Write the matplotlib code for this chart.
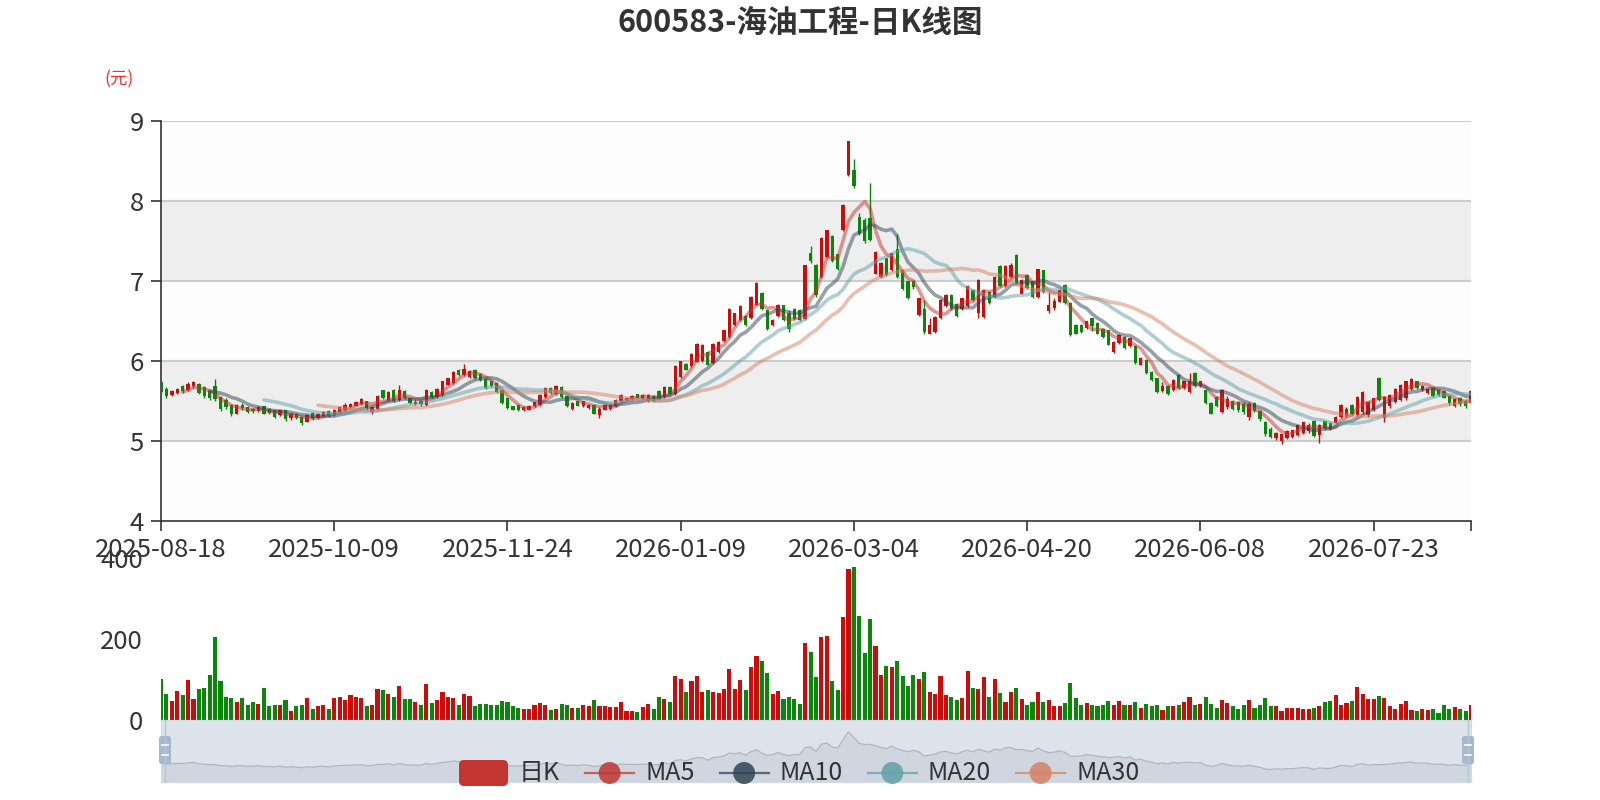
import numpy as np
import pandas as pd
import matplotlib
matplotlib.use("Agg")
import matplotlib.pyplot as plt
from matplotlib.patches import FancyBboxPatch, Circle

plt.rcParams['font.family'] = ['Noto Sans CJK SC', 'DejaVu Sans']

title = "600583-海油工程-日K线图"
unit_label = "(元)"

# trading days (weekdays minus exchange holidays)
holidays = ["2025-10-01", "2025-10-02", "2025-10-03", "2025-10-06", "2025-10-07", "2025-10-08",
            "2026-01-01", "2026-01-02",
            "2026-02-16", "2026-02-17", "2026-02-18", "2026-02-19", "2026-02-20", "2026-02-23",
            "2026-04-06", "2026-05-01", "2026-05-04", "2026-05-05", "2026-06-19"]
dates = [d.strftime("%Y-%m-%d") for d in pd.bdate_range("2025-08-18", "2026-08-18")]
dates = [d for d in dates if d not in holidays]

open_ = [5.74, 5.65, 5.57, 5.60, 5.68, 5.63, 5.68, 5.71, 5.67, 5.62,
         5.68, 5.55, 5.51, 5.45, 5.34, 5.45, 5.42, 5.40, 5.37, 5.43,
         5.40, 5.38, 5.32, 5.38, 5.28, 5.34, 5.30, 5.24, 5.35, 5.28,
         5.31, 5.37, 5.32, 5.36, 5.38, 5.42, 5.44, 5.46, 5.49, 5.36,
         5.40, 5.63, 5.51, 5.64, 5.51, 5.62, 5.53, 5.46, 5.50, 5.45,
         5.61, 5.55, 5.57, 5.70, 5.72, 5.88, 5.82, 5.80, 5.89, 5.84,
         5.77, 5.74, 5.72, 5.63, 5.53, 5.43, 5.45, 5.38, 5.39, 5.43,
         5.45, 5.55, 5.66, 5.58, 5.67, 5.56, 5.40, 5.50, 5.43, 5.41,
         5.45, 5.32, 5.39, 5.40, 5.43, 5.50, 5.51, 5.52, 5.58, 5.52,
         5.50, 5.56, 5.62, 5.55, 5.67, 5.58, 5.80, 5.96, 5.93, 5.99,
         6.00, 6.11, 5.97, 6.11, 6.24, 6.30, 6.45, 6.51, 6.56, 6.53,
         6.70, 6.85, 6.63, 6.45, 6.56, 6.69, 6.60, 6.65, 6.64, 6.52,
         7.35, 7.20, 7.05, 7.30, 7.56, 7.33, 7.63, 8.32, 8.38, 7.79,
         7.76, 7.78, 7.09, 7.05, 7.28, 7.13, 7.40, 7.13, 6.99, 7.00,
         6.57, 6.65, 6.34, 6.36, 6.53, 6.68, 6.82, 6.71, 6.65, 6.68,
         6.88, 6.60, 6.55, 6.86, 6.80, 7.18, 6.93, 7.05, 7.32, 6.84,
         7.07, 6.99, 6.80, 7.13, 6.62, 6.66, 6.74, 6.95, 6.72, 6.45,
         6.45, 6.41, 6.53, 6.47, 6.40, 6.38, 6.11, 6.22, 6.30, 6.18,
         6.18, 5.95, 6.01, 5.86, 5.78, 5.62, 5.68, 5.63, 5.82, 5.66,
         5.61, 5.85, 5.68, 5.63, 5.47, 5.55, 5.36, 5.42, 5.50, 5.48,
         5.46, 5.30, 5.47, 5.37, 5.24, 5.15, 5.03, 5.00, 5.04, 5.05,
         5.07, 5.10, 5.12, 5.25, 5.07, 5.24, 5.22, 5.22, 5.30, 5.31,
         5.45, 5.32, 5.36, 5.32, 5.39, 5.79, 5.28, 5.43, 5.49, 5.51,
         5.53, 5.65, 5.74, 5.63, 5.60, 5.66, 5.64, 5.62, 5.56, 5.44,
         5.54, 5.50, 5.47]

close = [5.61, 5.56, 5.62, 5.65, 5.62, 5.71, 5.73, 5.60, 5.56, 5.53,
         5.52, 5.40, 5.42, 5.34, 5.44, 5.41, 5.36, 5.37, 5.42, 5.34,
         5.35, 5.30, 5.38, 5.27, 5.33, 5.28, 5.22, 5.32, 5.27, 5.34,
         5.36, 5.31, 5.39, 5.42, 5.45, 5.46, 5.49, 5.52, 5.41, 5.42,
         5.56, 5.53, 5.61, 5.50, 5.64, 5.53, 5.47, 5.49, 5.46, 5.64,
         5.55, 5.65, 5.74, 5.78, 5.86, 5.82, 5.90, 5.87, 5.79, 5.76,
         5.66, 5.68, 5.61, 5.47, 5.41, 5.39, 5.38, 5.42, 5.44, 5.48,
         5.57, 5.66, 5.60, 5.68, 5.55, 5.43, 5.47, 5.44, 5.49, 5.45,
         5.34, 5.40, 5.45, 5.45, 5.51, 5.57, 5.54, 5.56, 5.53, 5.57,
         5.57, 5.50, 5.53, 5.67, 5.59, 5.93, 5.99, 5.89, 6.09, 6.21,
         6.20, 5.95, 6.21, 6.24, 6.38, 6.65, 6.59, 6.68, 6.45, 6.80,
         6.97, 6.65, 6.40, 6.51, 6.70, 6.51, 6.40, 6.52, 6.51, 7.19,
         7.24, 6.82, 7.53, 7.63, 7.24, 7.15, 7.95, 8.74, 8.18, 7.59,
         7.49, 7.51, 7.36, 7.22, 7.07, 7.34, 7.05, 6.90, 6.78, 6.92,
         6.78, 6.36, 6.45, 6.55, 6.76, 6.82, 6.65, 6.56, 6.78, 6.93,
         6.76, 7.01, 6.88, 6.72, 7.05, 6.93, 7.18, 7.20, 6.97, 7.01,
         6.91, 6.80, 7.14, 6.86, 6.70, 6.74, 6.88, 6.72, 6.32, 6.34,
         6.36, 6.49, 6.44, 6.34, 6.30, 6.20, 6.24, 6.32, 6.16, 6.28,
         5.97, 6.04, 5.85, 5.76, 5.61, 5.68, 5.58, 5.76, 5.66, 5.74,
         5.75, 5.68, 5.74, 5.47, 5.34, 5.43, 5.63, 5.52, 5.40, 5.38,
         5.36, 5.46, 5.37, 5.27, 5.08, 5.05, 5.10, 5.08, 5.12, 5.13,
         5.19, 5.23, 5.20, 5.06, 5.20, 5.16, 5.15, 5.30, 5.45, 5.40,
         5.33, 5.55, 5.61, 5.48, 5.53, 5.51, 5.55, 5.57, 5.65, 5.70,
         5.74, 5.77, 5.66, 5.68, 5.65, 5.56, 5.57, 5.54, 5.47, 5.52,
         5.46, 5.44, 5.62]

high = [5.76, 5.67, 5.63, 5.66, 5.70, 5.73, 5.75, 5.72, 5.68, 5.64,
        5.77, 5.56, 5.53, 5.46, 5.46, 5.47, 5.44, 5.41, 5.43, 5.44,
        5.41, 5.39, 5.39, 5.39, 5.35, 5.35, 5.31, 5.33, 5.36, 5.35,
        5.37, 5.38, 5.40, 5.44, 5.47, 5.47, 5.50, 5.54, 5.50, 5.43,
        5.57, 5.64, 5.62, 5.65, 5.70, 5.63, 5.54, 5.51, 5.51, 5.65,
        5.62, 5.66, 5.75, 5.79, 5.87, 5.90, 5.96, 5.88, 5.90, 5.85,
        5.78, 5.76, 5.73, 5.64, 5.54, 5.44, 5.46, 5.43, 5.45, 5.49,
        5.58, 5.67, 5.67, 5.69, 5.68, 5.57, 5.48, 5.51, 5.50, 5.46,
        5.46, 5.42, 5.46, 5.46, 5.52, 5.58, 5.55, 5.57, 5.59, 5.58,
        5.59, 5.57, 5.63, 5.68, 5.68, 5.94, 6.00, 5.97, 6.10, 6.22,
        6.21, 6.12, 6.22, 6.25, 6.39, 6.66, 6.60, 6.69, 6.57, 6.81,
        6.98, 6.86, 6.64, 6.52, 6.71, 6.70, 6.63, 6.66, 6.65, 7.20,
        7.43, 7.21, 7.54, 7.64, 7.57, 7.34, 7.96, 8.75, 8.52, 7.85,
        7.78, 8.22, 7.37, 7.23, 7.29, 7.35, 7.59, 7.14, 7.00, 7.01,
        6.79, 6.76, 6.53, 6.56, 6.77, 6.83, 6.83, 6.72, 6.79, 6.94,
        6.89, 7.02, 6.89, 6.87, 7.06, 7.19, 7.19, 7.22, 7.33, 7.02,
        7.08, 7.00, 7.15, 7.14, 6.86, 6.79, 6.89, 6.96, 6.73, 6.46,
        6.46, 6.50, 6.54, 6.48, 6.41, 6.39, 6.25, 6.33, 6.31, 6.29,
        6.19, 6.05, 6.02, 5.87, 5.79, 5.73, 5.69, 5.77, 5.83, 5.75,
        5.85, 5.86, 5.75, 5.64, 5.48, 5.56, 5.65, 5.56, 5.51, 5.49,
        5.49, 5.48, 5.49, 5.38, 5.25, 5.17, 5.11, 5.09, 5.13, 5.14,
        5.20, 5.24, 5.22, 5.26, 5.21, 5.25, 5.24, 5.31, 5.46, 5.42,
        5.46, 5.56, 5.62, 5.50, 5.54, 5.80, 5.56, 5.58, 5.66, 5.71,
        5.75, 5.78, 5.75, 5.70, 5.66, 5.67, 5.65, 5.63, 5.57, 5.53,
        5.55, 5.52, 5.63]

low = [5.59, 5.54, 5.56, 5.58, 5.60, 5.62, 5.66, 5.58, 5.54, 5.51,
       5.50, 5.37, 5.40, 5.31, 5.33, 5.39, 5.35, 5.35, 5.36, 5.33,
       5.33, 5.29, 5.31, 5.25, 5.26, 5.27, 5.20, 5.23, 5.26, 5.27,
       5.30, 5.30, 5.31, 5.35, 5.37, 5.41, 5.43, 5.45, 5.38, 5.34,
       5.39, 5.52, 5.50, 5.49, 5.50, 5.52, 5.46, 5.45, 5.44, 5.44,
       5.54, 5.54, 5.56, 5.69, 5.71, 5.81, 5.81, 5.78, 5.77, 5.75,
       5.65, 5.67, 5.60, 5.46, 5.40, 5.38, 5.37, 5.37, 5.38, 5.42,
       5.44, 5.54, 5.59, 5.57, 5.54, 5.42, 5.39, 5.43, 5.42, 5.40,
       5.33, 5.29, 5.38, 5.39, 5.42, 5.49, 5.50, 5.51, 5.52, 5.51,
       5.48, 5.48, 5.52, 5.54, 5.58, 5.57, 5.79, 5.88, 5.92, 5.98,
       5.99, 5.94, 5.96, 6.10, 6.23, 6.29, 6.44, 6.50, 6.44, 6.52,
       6.69, 6.64, 6.39, 6.44, 6.55, 6.50, 6.36, 6.51, 6.50, 6.51,
       7.22, 6.80, 7.04, 7.29, 7.23, 7.14, 7.62, 8.31, 8.16, 7.57,
       7.47, 7.50, 7.08, 7.04, 7.06, 7.12, 7.04, 6.89, 6.77, 6.90,
       6.56, 6.33, 6.33, 6.35, 6.52, 6.67, 6.64, 6.55, 6.64, 6.67,
       6.75, 6.53, 6.54, 6.71, 6.79, 6.92, 6.92, 7.04, 6.96, 6.83,
       6.90, 6.79, 6.79, 6.85, 6.60, 6.63, 6.73, 6.71, 6.31, 6.33,
       6.35, 6.40, 6.37, 6.33, 6.28, 6.19, 6.10, 6.21, 6.15, 6.17,
       5.96, 5.94, 5.84, 5.75, 5.60, 5.61, 5.57, 5.62, 5.65, 5.65,
       5.60, 5.67, 5.67, 5.46, 5.33, 5.42, 5.35, 5.40, 5.38, 5.36,
       5.34, 5.26, 5.36, 5.25, 5.06, 5.03, 5.01, 4.96, 5.02, 5.04,
       5.06, 5.09, 5.10, 5.05, 4.97, 5.14, 5.13, 5.21, 5.29, 5.30,
       5.32, 5.31, 5.34, 5.30, 5.37, 5.50, 5.24, 5.41, 5.47, 5.50,
       5.51, 5.64, 5.65, 5.62, 5.58, 5.55, 5.56, 5.53, 5.45, 5.42,
       5.43, 5.41, 5.46]

volume = [101, 64, 46, 72, 62, 99, 52, 76, 80, 110,
          205, 97, 57, 54, 44, 54, 36, 44, 40, 78,
          34, 36, 38, 50, 22, 34, 38, 54, 28, 34,
          36, 28, 54, 58, 50, 62, 56, 54, 34, 36,
          76, 73, 64, 56, 83, 52, 52, 44, 36, 89,
          42, 50, 68, 58, 54, 38, 64, 60, 34, 40,
          40, 38, 36, 48, 44, 34, 30, 26, 28, 36,
          42, 38, 24, 28, 40, 38, 30, 30, 38, 34,
          50, 34, 34, 32, 32, 44, 22, 22, 20, 32,
          40, 28, 57, 53, 44, 109, 101, 70, 96, 109,
          70, 73, 70, 66, 77, 127, 77, 98, 73, 132,
          158, 146, 115, 63, 72, 53, 57, 52, 39, 189,
          169, 105, 205, 208, 97, 73, 254, 374, 379, 258,
          165, 249, 183, 110, 133, 131, 145, 108, 85, 110,
          102, 118, 70, 64, 108, 62, 56, 50, 54, 122,
          80, 77, 106, 56, 102, 67, 45, 70, 80, 53,
          36, 44, 70, 44, 50, 34, 34, 42, 92, 54,
          36, 42, 36, 34, 38, 48, 38, 48, 38, 36,
          44, 30, 40, 34, 38, 24, 34, 34, 38, 44,
          58, 38, 40, 56, 40, 30, 50, 42, 34, 26,
          38, 50, 30, 38, 54, 34, 34, 22, 30, 30,
          30, 28, 28, 30, 34, 44, 48, 62, 36, 42,
          46, 82, 64, 52, 52, 60, 54, 34, 28, 40,
          48, 24, 22, 26, 24, 26, 18, 36, 26, 32,
          28, 22, 36]

ma_names = ["MA5", "MA10", "MA20", "MA30"]
ma_windows = [5, 10, 20, 30]
ma_colors = ["#c23531", "#2f4554", "#61a0a8", "#d48265"]
kline_name = "日K"

UP = "#cc0b0b"
DOWN = "#0a870a"

n = len(close)
x = np.arange(n)
o = np.array(open_)
c = np.array(close)
h = np.array(high)
l = np.array(low)
colors = np.where(c >= o, UP, DOWN)

W, H = 1600, 800
fig = plt.figure(figsize=(16, 8), dpi=100)
fig.patch.set_facecolor("white")


def px_rect(left, top, right, bottom):
    return [left / W, 1 - bottom / H, (right - left) / W, (bottom - top) / H]


# ---- price panel ----
ax = fig.add_axes(px_rect(161, 120.7, 1471, 520.7))
for k in range(4, 9):
    ax.axhspan(k, k + 1, color="#fdfdfd" if (k - 4) % 2 == 0 else "#eeeeee", zorder=0, lw=0)
for k in range(5, 10):
    ax.axhline(k, color="#cccccc", lw=1.5, zorder=1)

ax.vlines(x, l, h, colors=colors, lw=1.0, zorder=3)
body = np.maximum(np.abs(c - o), 0.008)
ax.bar(x, body, bottom=np.minimum(o, c), width=0.62, color=colors, lw=0, zorder=3)

for name, w, col in zip(ma_names, ma_windows, ma_colors):
    ma = pd.Series(c).rolling(w).mean()
    ax.plot(x, ma, color=col, lw=2.6, alpha=0.5, zorder=4, solid_capstyle="round")

ax.set_xlim(0, n - 1)
ax.set_ylim(4, 9)
ax.set_yticks(range(4, 10))
label_idx = list(range(0, n, 32))
ax.set_xticks(label_idx, [dates[i] for i in label_idx])
ax.set_xticks([n - 1], minor=True)
for s in ["top", "right"]:
    ax.spines[s].set_visible(False)
for s in ["left", "bottom"]:
    ax.spines[s].set_color("#333333")
    ax.spines[s].set_linewidth(1.2)
ax.tick_params(axis="x", which="both", length=7, width=1.2, color="#333333",
               labelsize=18.5, labelcolor="#333333", pad=4.5)
ax.tick_params(axis="y", length=7.5, width=1.2, color="#333333",
               labelsize=18.5, labelcolor="#333333", pad=5)

# ---- volume panel ----
axv = fig.add_axes(px_rect(161, 558, 1471, 720))
axv.bar(x, volume, width=0.76, color=colors, lw=0)
axv.set_xlim(0, n - 1)
axv.set_ylim(0, 400)
axv.set_yticks([0, 200, 400], ["0", "200", "400"])
axv.set_xticks([])
for s in axv.spines.values():
    s.set_visible(False)
axv.patch.set_alpha(0)
axv.tick_params(axis="y", length=0, labelsize=18.5, labelcolor="#333333", pad=13)

# ---- data zoom slider ----
axs = fig.add_axes(px_rect(161, 720, 1471, 782))
lo, hi = min(low), max(high)
margin = (hi - lo) * 0.3
axs.set_xlim(0, n - 1)
axs.set_ylim(lo - margin, hi + margin)
axs.set_facecolor("#dde3eb")
axs.fill_between(x, lo - margin, c, color="#cfd6df", lw=0)
axs.plot(x, c, color="#aeb6c2", lw=0.9)
axs.set_xticks([])
axs.set_yticks([])
for s in axs.spines.values():
    s.set_color("#d3dae3")
    s.set_linewidth(0.8)

# ---- overlay for title, legend, handles ----
ov = fig.add_axes([0, 0, 1, 1])
ov.set_xlim(0, W)
ov.set_ylim(H, 0)
ov.axis("off")
ov.patch.set_alpha(0)
ov.set_zorder(10)

ov.text(W / 2, 22.5, title, ha="center", va="center", fontsize=22,
        fontweight="bold", color="#333333")
ov.text(119, 79, unit_label, ha="center", va="center", fontsize=12.5, color="#ff2a2a")

for hx in (165, 1468):
    ov.plot([hx, hx], [720, 782], color="#b8c4d4", lw=1.0)
    ov.add_patch(FancyBboxPatch((hx - 6, 736), 12, 28, boxstyle="round,pad=0,rounding_size=2.5",
                                fc="#a7b7cc", ec="none"))
    for yy in (745, 755):
        ov.plot([hx - 3, hx + 3], [yy, yy], color="white", lw=1.2)

legend_y = 773
cur = 459
renderer = fig.canvas.get_renderer()
items = [(kline_name, "#c23531", "rect")] + [(nm, col, "line") for nm, col in zip(ma_names, ma_colors)]
for label, col, kind in items:
    if kind == "rect":
        ov.add_patch(FancyBboxPatch((cur, legend_y - 13), 49, 26,
                                    boxstyle="round,pad=0,rounding_size=5", fc=col, ec="none"))
    else:
        ov.plot([cur, cur + 49], [legend_y, legend_y], color=col, lw=1.6, alpha=0.75)
        ov.add_patch(Circle((cur + 24.5, legend_y), 11, fc=col, ec="none", alpha=0.85))
    t = ov.text(cur + 60, legend_y, label, ha="left", va="center", fontsize=18, color="#333333")
    bb = t.get_window_extent(renderer=renderer)
    cur = cur + 60 + bb.width + 25

fig.savefig("out.png", dpi=100)
